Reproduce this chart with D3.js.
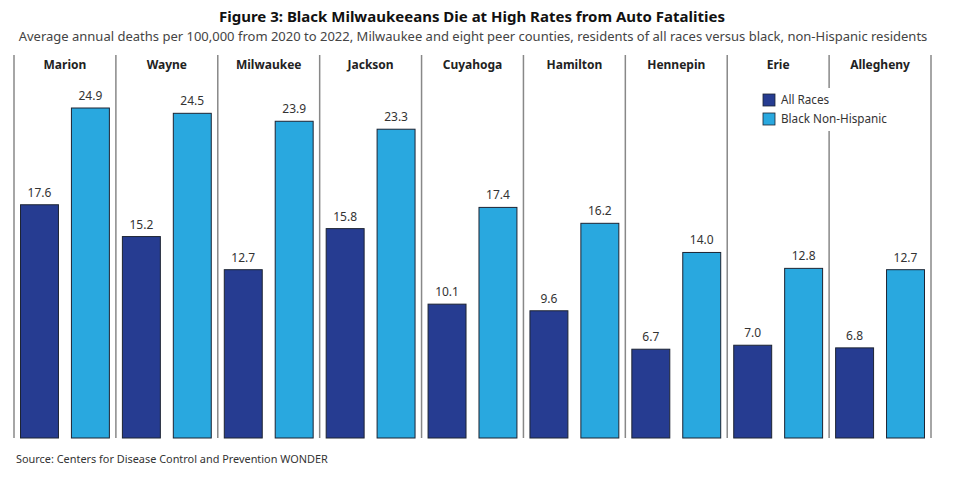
<!DOCTYPE html>
<html><head><meta charset="utf-8">
<script src="https://cdn.jsdelivr.net/npm/d3@7"></script>
<style>body{margin:0;background:#fff}svg{display:block}</style>
</head><body><svg id="c" width="960" height="481"></svg>
<script>
const counties = ["Marion","Wayne","Milwaukee","Jackson","Cuyahoga","Hamilton","Hennepin","Erie","Allegheny"];
const allRaces = [17.6,15.2,12.7,15.8,10.1,9.6,6.7,7.0,6.8];
const blackNH = [24.9,24.5,23.9,23.3,17.4,16.2,14.0,12.8,12.7];
const seriesNames = ["All Races","Black Non-Hispanic"];
const colors = ["#263c91","#29a8df"];

const svg = d3.select("#c");
const font = "'Noto Sans', sans-serif";
const plotLeft = 14, plotRight = 931, plotTop = 55, base = 438;

const x = d3.scaleBand().domain(counties).range([plotLeft,plotRight]).paddingInner(0).paddingOuter(0);
const xi = d3.scaleBand().domain(seriesNames).range([0,x.bandwidth()]).paddingInner(0.235).paddingOuter(0.118);
const y = d3.scaleLinear().domain([0,28.9]).range([base,plotTop]);

svg.append("text").attr("x",472).attr("y",22).attr("text-anchor","middle")
  .attr("font-family",font).attr("font-weight","bold").attr("font-size",15).attr("fill","#111")
  .text("Figure 3: Black Milwaukeeans Die at High Rates from Auto Fatalities");
svg.append("text").attr("x",473).attr("y",41).attr("text-anchor","middle")
  .attr("font-family",font).attr("font-size",13).attr("fill","#444")
  .text("Average annual deaths per 100,000 from 2020 to 2022, Milwaukee and eight peer counties, residents of all races versus black, non-Hispanic residents");

// dividers
const divs = counties.map(c=>x(c)).concat([plotRight]);
svg.append("g").selectAll("line").data(divs).join("line")
  .attr("x1",d=>d).attr("x2",d=>d).attr("y1",plotTop).attr("y2",base)
  .attr("stroke","#888").attr("stroke-width",1.5);

const g = svg.append("g").selectAll("g").data(counties).join("g")
  .attr("transform",d=>`translate(${x(d)},0)`);
g.append("text").attr("x",x.bandwidth()/2).attr("y",69).attr("text-anchor","middle")
  .attr("font-family",font).attr("font-weight","bold").attr("font-size",12).attr("fill","#222")
  .text(d=>d);

counties.forEach((c,i)=>{
  const vals = [allRaces[i], blackNH[i]];
  const gg = svg.append("g").attr("transform",`translate(${x(c)},0)`);
  vals.forEach((v,j)=>{
    const s = seriesNames[j];
    gg.append("rect").attr("x",xi(s)+0.5).attr("y",y(v)).attr("width",xi.bandwidth()-1).attr("height",base-y(v))
      .attr("fill",colors[j]).attr("stroke","#1d2433").attr("stroke-width",1);
    gg.append("text").attr("x",xi(s)+xi.bandwidth()/2).attr("y",y(v)-8).attr("text-anchor","middle")
      .attr("font-family",font).attr("font-size",12).attr("fill","#333").text(v.toFixed(1));
  });
});

// legend
const lg = svg.append("g").attr("transform","translate(755,88)");
lg.append("rect").attr("width",140).attr("height",43).attr("fill","#fff");
seriesNames.forEach((s,j)=>{
  lg.append("rect").attr("x",8).attr("y",6+j*19).attr("width",12).attr("height",12)
    .attr("fill",colors[j]).attr("stroke","#1d2433").attr("stroke-width",0.8);
  lg.append("text").attr("x",26).attr("y",16+j*19).attr("font-family",font).attr("font-size",11.7)
    .attr("fill","#333").text(s);
});

svg.append("text").attr("x",16).attr("y",463).attr("font-family",font).attr("font-size",10.9).attr("fill","#333")
  .text("Source: Centers for Disease Control and Prevention WONDER");
</script></body></html>
